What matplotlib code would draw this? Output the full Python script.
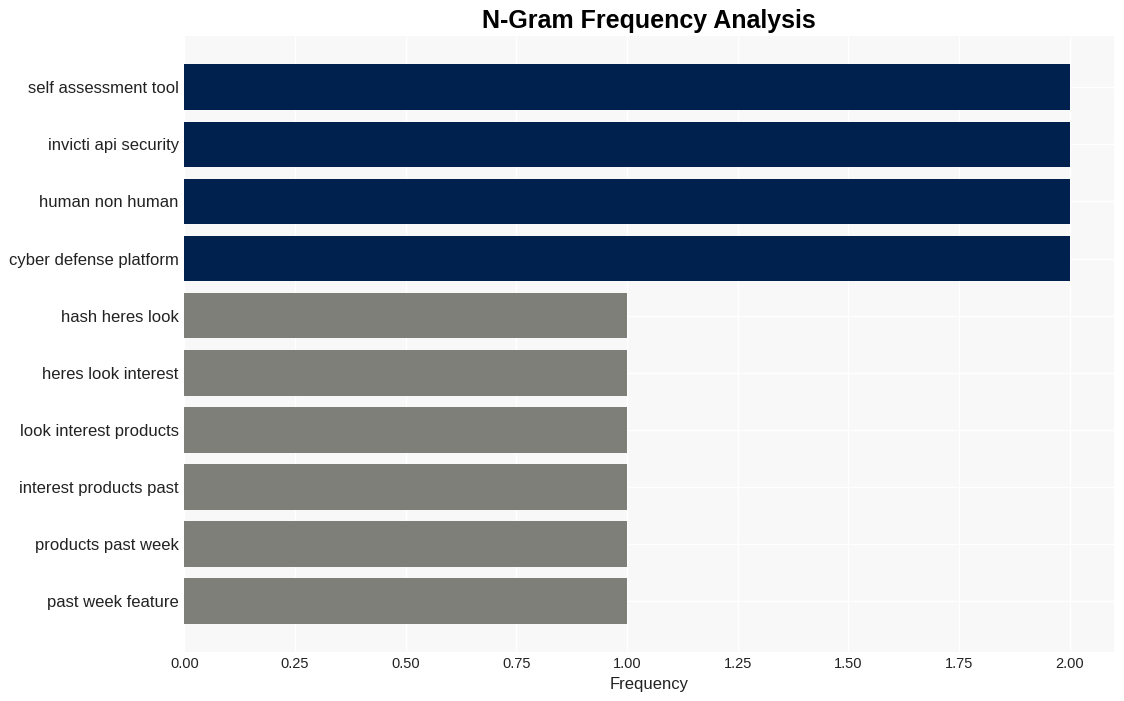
import matplotlib.pyplot as plt

plt.rcParams['font.family'] = ['Liberation Sans', 'DejaVu Sans']

ngrams = ['self assessment tool', 'invicti api security', 'human non human',
          'cyber defense platform', 'hash heres look', 'heres look interest',
          'look interest products', 'interest products past',
          'products past week', 'past week feature']
counts = [2, 2, 2, 2, 1, 1, 1, 1, 1, 1]

NAVY = '#00204e'
GREY = '#7f7f7a'
colors = [NAVY if c == max(counts) else GREY for c in counts]

fig, ax = plt.subplots(figsize=(11.24, 7.01), dpi=100)
ax.set_facecolor('#f8f8f8')

# reverse so the first n-gram is on top
pos = list(range(len(ngrams)))[::-1]
ax.barh(pos, counts, height=0.8, color=colors, zorder=2)
ax.set_yticks(pos)
ax.set_yticklabels(ngrams, fontsize=12, color='#222222')
ax.set_xticks([0, 0.25, 0.5, 0.75, 1.0, 1.25, 1.5, 1.75, 2.0])
ax.set_xticklabels(['0.00', '0.25', '0.50', '0.75', '1.00', '1.25', '1.50', '1.75', '2.00'],
                   fontsize=10.5, color='#222222')
ax.grid(True, color='white', linewidth=1, zorder=0)
ax.set_axisbelow(True)
for s in ax.spines.values():
    s.set_visible(False)
ax.tick_params(length=0, pad=4)
ax.set_xlabel('Frequency', fontsize=12, color='#222222')
ax.set_title('N-Gram Frequency Analysis', fontsize=18, fontweight='bold', pad=6)

plt.subplots_adjust(left=0.164, right=0.991, top=0.948, bottom=0.07)
plt.savefig('out.png')
